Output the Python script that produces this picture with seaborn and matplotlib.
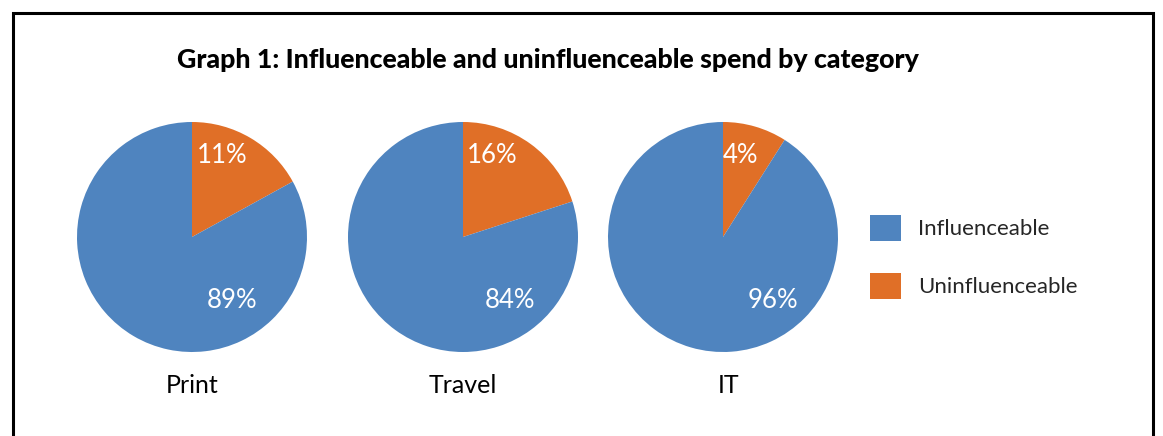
import matplotlib
matplotlib.use("Agg")
import matplotlib.pyplot as plt
import seaborn as sns
from matplotlib.patches import Patch, Rectangle

# data
categories = ["Print", "Travel", "IT"]
# wedge shares as drawn (uninfluenceable, influenceable)
uninfluenceable = [17, 20, 9]
influenceable = [83, 80, 91]
# printed labels
unin_labels = ["11%", "16%", "4%"]
infl_labels = ["89%", "84%", "96%"]
series = ["Influenceable", "Uninfluenceable"]

blue = "#4F84BF"
orange = "#E06F27"

sns.set_theme(style="white")
plt.rcParams["font.family"] = ["Lato", "DejaVu Sans"]

W, H = 1163, 436
fig = plt.figure(figsize=(W / 100, H / 100), dpi=100)

# label offsets inside each pie (data units)
unin_pos = [(0.26, 0.71), (0.25, 0.71), (0.15, 0.71)]
infl_pos = [(0.35, -0.55), (0.41, -0.55), (0.43, -0.55)]
centers_x = [192, 463, 723]
cy, r = 237, 115

for i, cat in enumerate(categories):
    ax = fig.add_axes([(centers_x[i] - r) / W, (H - cy - r) / H, 2 * r / W, 2 * r / H])
    ax.pie([uninfluenceable[i], influenceable[i]], colors=[orange, blue],
           startangle=90, counterclock=False, radius=1.0,
           wedgeprops=dict(linewidth=0))
    ax.set_xlim(-1, 1)
    ax.set_ylim(-1, 1)
    ax.set_aspect("equal")
    ax.axis("off")
    ax.text(*unin_pos[i], unin_labels[i], color="white", fontsize=18.5,
            ha="center", va="center")
    ax.text(*infl_pos[i], infl_labels[i], color="white", fontsize=18.5,
            ha="center", va="center")
    ax.text(0.05 if cat == "IT" else 0, -1.29, cat, color="black", fontsize=18,
            ha="center", va="center", clip_on=False)

fig.text(548 / W, 1 - 60 / H, "Graph 1: Influenceable and uninfluenceable spend by category",
         fontsize=19.3, fontweight="black", color="black", ha="center", va="center")

handles = [Patch(facecolor=blue, edgecolor="none"), Patch(facecolor=orange, edgecolor="none")]
fig.legend(handles, series, loc="center left", bbox_to_anchor=(850 / W, 1 - 257 / H),
           frameon=False, fontsize=16, handlelength=1.4, handleheight=1.4,
           labelspacing=1.45, handletextpad=0.75)

# frame around the chart
fig.patches.append(Rectangle((13 / W, -0.05), (1153 - 13) / W, 1.05 - 13 / H,
                             transform=fig.transFigure, fill=False,
                             edgecolor="black", linewidth=2.2))

fig.savefig("out.png", dpi=100)
